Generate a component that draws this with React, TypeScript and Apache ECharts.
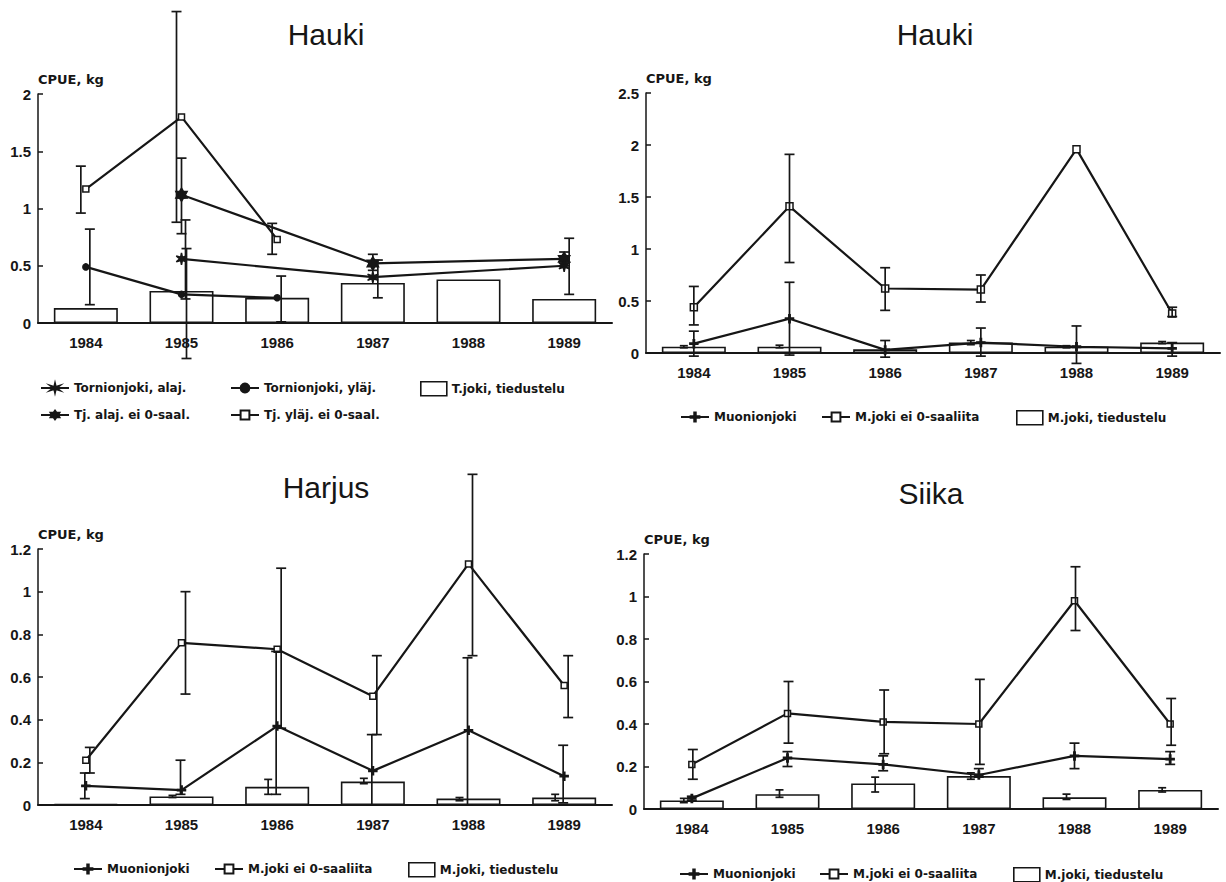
import React, { useEffect, useRef } from 'react';
import * as echarts from 'echarts';

type Err = [number, number] | null;

const years = ['1984', '1985', '1986', '1987', '1988', '1989'];

// Panel 1 – Hauki, Tornionjoki
const tjAla = [null, 0.56, null, 0.4, null, 0.5];
const tjAlaErr: Err[] = [null, [-0.31, 0.65], null, [0.22, 0.55], null, [0.25, 0.74]];
const tjAlaEi = [null, 1.12, null, 0.52, null, 0.56];
const tjAlaEiErr: Err[] = [null, [0.78, 1.44], null, [0.46, 0.6], null, [0.5, 0.62]];
const tjYla = [0.49, 0.25, 0.22, null, null, null];
const tjYlaErr: Err[] = [[0.16, 0.82], [0.21, 0.9], [0.01, 0.41], null, null, null];
const tjYlaEi = [1.17, 1.8, 0.73, null, null, null];
const tjYlaEiErr: Err[] = [[0.96, 1.37], [0.88, 2.72], [0.6, 0.87], null, null, null];
const tjTied = [0.13, 0.28, 0.22, 0.35, 0.38, 0.21];

// Panel 2 – Hauki, Muonionjoki
const muoHauki = [0.09, 0.33, 0.03, 0.1, 0.06, 0.045];
const muoHaukiErr: Err[] = [[-0.03, 0.21], [-0.02, 0.68], [-0.04, 0.12], [-0.03, 0.24], [-0.1, 0.26], [-0.03, 0.1]];
const muoHaukiEi = [0.44, 1.41, 0.62, 0.61, 1.96, 0.38];
const muoHaukiEiErr: Err[] = [[0.27, 0.64], [0.87, 1.91], [0.41, 0.82], [0.49, 0.75], null, [0.35, 0.44]];
const muoHaukiTied = [0.06, 0.06, 0.035, 0.1, 0.06, 0.1];
const muoHaukiTiedErr: Err[] = [[0.05, 0.07], [0.05, 0.075], null, [0.08, 0.12], [0.05, 0.07], [0.09, 0.11]];

// Panel 3 – Harjus, Muonionjoki
const muoHarjus = [0.09, 0.07, 0.37, 0.16, 0.35, 0.135];
const muoHarjusErr: Err[] = [[0.03, 0.15], [0.05, 0.21], [0.05, 0.72], [0.0, 0.33], [0.0, 0.69], [0.01, 0.28]];
const muoHarjusEi = [0.21, 0.76, 0.73, 0.51, 1.13, 0.56];
const muoHarjusEiErr: Err[] = [[0.15, 0.27], [0.52, 1.0], [0.36, 1.11], [0.33, 0.7], [0.7, 1.55], [0.41, 0.7]];
const muoHarjusTied = [0.005, 0.04, 0.085, 0.11, 0.03, 0.035];
const muoHarjusTiedErr: Err[] = [null, [0.035, 0.045], [0.05, 0.12], [0.1, 0.125], [0.02, 0.035], [0.02, 0.05]];

// Panel 4 – Siika, Muonionjoki
const muoSiika = [0.05, 0.24, 0.21, 0.16, 0.25, 0.235];
const muoSiikaErr: Err[] = [[0.04, 0.06], [0.2, 0.27], [0.18, 0.25], [0.15, 0.19], [0.19, 0.31], [0.21, 0.27]];
const muoSiikaEi = [0.21, 0.45, 0.41, 0.4, 0.98, 0.4];
const muoSiikaEiErr: Err[] = [[0.14, 0.28], [0.31, 0.6], [0.26, 0.56], [0.21, 0.61], [0.84, 1.14], [0.3, 0.52]];
const muoSiikaTied = [0.04, 0.07, 0.12, 0.155, 0.055, 0.09];
const muoSiikaTiedErr: Err[] = [[0.03, 0.05], [0.055, 0.09], [0.08, 0.15], [0.14, 0.17], [0.045, 0.07], [0.08, 0.1]];

const panelTitles = ['Hauki', 'Hauki', 'Harjus', 'Siika'];
const yAxisName = 'CPUE, kg';
const yMax = [2, 2.5, 1.2, 1.2];
const yInterval = [0.5, 0.5, 0.2, 0.2];

const p1Names = ['Tornionjoki, alaj.', 'Tj. alaj. ei 0-saal.', 'Tornionjoki, yläj.', 'Tj. yläj. ei 0-saal.', 'T.joki, tiedustelu'];
const mNames = ['Muonionjoki', 'M.joki ei 0-saaliita', 'M.joki, tiedustelu'];

const INK = '#161616';
const STAR_THIN = 'path://M0,-10L1.5,-2.6L8.66,-5L3,0L8.66,5L1.5,2.6L0,10L-1.5,2.6L-8.66,5L-3,0L-8.66,-5L-1.5,-2.6Z';
const STAR_BOLD = 'path://M0,-10L3,-5.2L8.66,-5L6,0L8.66,5L3,5.2L0,10L-3,5.2L-8.66,5L-6,0L-8.66,-5L-3,-5.2Z';
const PLUS = 'path://M-1,-6L1,-6L1,-1L6,-1L6,1L1,1L1,6L-1,6L-1,1L-6,1L-6,-1L-1,-1Z';

const tag = (n: string, p: number) => `${n}|${p}`;
const strip = (n: string) => n.split('|')[0];

function errSeries(grid: number, errs: Err[], offset: number, cap = 5) {
  return {
    type: 'custom',
    xAxisIndex: grid,
    yAxisIndex: grid,
    z: 4,
    silent: true,
    clip: false,
    data: errs.flatMap((e, i) => (e ? [[i, e[0], e[1]]] : [])),
    encode: { x: 0, y: [1, 2] },
    renderItem: (_p: any, api: any) => {
      const hi = api.coord([api.value(0), api.value(2)]);
      const lo = api.coord([api.value(0), api.value(1)]);
      const x = hi[0] + offset;
      const st = { stroke: INK, lineWidth: 1.7 };
      return {
        type: 'group',
        children: [
          { type: 'line', shape: { x1: x, y1: hi[1], x2: x, y2: lo[1] }, style: st },
          { type: 'line', shape: { x1: x - cap, y1: hi[1], x2: x + cap, y2: hi[1] }, style: st },
          { type: 'line', shape: { x1: x - cap, y1: lo[1], x2: x + cap, y2: lo[1] }, style: st },
        ],
      };
    },
  };
}

function lineSeries(grid: number, name: string, data: (number | null)[], symbol: string, size: number, filled: boolean) {
  return {
    type: 'line',
    name,
    xAxisIndex: grid,
    yAxisIndex: grid,
    data,
    connectNulls: true,
    symbol,
    symbolSize: size,
    symbolKeepAspect: true,
    showSymbol: true,
    showAllSymbol: true,
    lineStyle: { color: INK, width: 2.2 },
    itemStyle: { color: filled ? INK : '#fff', borderColor: INK, borderWidth: 1.5 },
    z: 3,
  };
}

function barSeries(grid: number, name: string, data: number[]) {
  return {
    type: 'bar',
    name,
    xAxisIndex: grid,
    yAxisIndex: grid,
    data,
    barWidth: 64,
    itemStyle: { color: '#fff', borderColor: INK, borderWidth: 1.6 },
    z: 2,
  };
}

const legendText = { fontFamily: 'DejaVu Sans', fontWeight: 'bold', fontSize: 12, color: INK };

function legendItem(name: string, left: number, top: number, box = false) {
  return {
    data: [name],
    left,
    top,
    padding: 0,
    selectedMode: false,
    itemWidth: box ? 26 : 28,
    itemHeight: box ? 14 : 11,
    formatter: strip,
    textStyle: legendText,
    ...(box ? { icon: 'rect', itemStyle: { color: '#fff', borderColor: INK, borderWidth: 1.6 } } : {}),
  };
}

function buildOption() {
  const grids = [
    { left: 38, top: 94, width: 574, height: 229 },
    { left: 646, top: 93, width: 574, height: 260 },
    { left: 38, top: 549, width: 574, height: 256 },
    { left: 644, top: 554, width: 574, height: 255 },
  ];
  const titlePos = [
    { left: 326, top: 19 },
    { left: 935, top: 19 },
    { left: 326, top: 472 },
    { left: 931, top: 478 },
  ];
  const tickFont = { fontFamily: 'Liberation Sans', fontWeight: 'bold', fontSize: 15, color: INK };

  const series: any[] = [
    // Panel 1
    barSeries(0, p1Names[4], tjTied),
    lineSeries(0, p1Names[3], tjYlaEi, 'rect', 6, false),
    lineSeries(0, p1Names[2], tjYla, 'circle', 6, true),
    lineSeries(0, p1Names[1], tjAlaEi, STAR_BOLD, 13, true),
    lineSeries(0, p1Names[0], tjAla, STAR_THIN, 12, true),
    errSeries(0, tjYlaEiErr, -5),
    errSeries(0, tjYlaErr, 4),
    errSeries(0, tjAlaEiErr, 0),
    errSeries(0, tjAlaErr, 5),
    // Panel 2
    barSeries(1, tag(mNames[2], 2), muoHaukiTied),
    lineSeries(1, tag(mNames[0], 2), muoHauki, PLUS, 8, true),
    lineSeries(1, tag(mNames[1], 2), muoHaukiEi, 'rect', 7, false),
    errSeries(1, muoHaukiErr, 0),
    errSeries(1, muoHaukiEiErr, 0),
    errSeries(1, muoHaukiTiedErr, -10, 4),
    // Panel 3
    barSeries(2, tag(mNames[2], 3), muoHarjusTied),
    lineSeries(2, tag(mNames[0], 3), muoHarjus, PLUS, 8, true),
    lineSeries(2, tag(mNames[1], 3), muoHarjusEi, 'rect', 6, false),
    errSeries(2, muoHarjusErr, -1),
    errSeries(2, muoHarjusEiErr, 4),
    errSeries(2, muoHarjusTiedErr, -9, 4),
    // Panel 4
    barSeries(3, tag(mNames[2], 4), muoSiikaTied),
    lineSeries(3, tag(mNames[0], 4), muoSiika, PLUS, 8, true),
    lineSeries(3, tag(mNames[1], 4), muoSiikaEi, 'rect', 6, false),
    errSeries(3, muoSiikaErr, 0),
    errSeries(3, muoSiikaEiErr, 1),
    errSeries(3, muoSiikaTiedErr, -8, 4),
  ];

  const legend = [
    legendItem(p1Names[0], 40, 382),
    legendItem(p1Names[2], 230, 382),
    legendItem(p1Names[4], 420, 381, true),
    legendItem(p1Names[1], 40, 409),
    legendItem(p1Names[3], 230, 409),
    legendItem(tag(mNames[0], 2), 680, 411),
    legendItem(tag(mNames[1], 2), 821, 411),
    legendItem(tag(mNames[2], 2), 1016, 410, true),
    legendItem(tag(mNames[0], 3), 73, 863),
    legendItem(tag(mNames[1], 3), 214, 863),
    legendItem(tag(mNames[2], 3), 408, 862, true),
    legendItem(tag(mNames[0], 4), 679, 868),
    legendItem(tag(mNames[1], 4), 819, 868),
    legendItem(tag(mNames[2], 4), 1013, 867, true),
  ];

  return {
    animation: false,
    backgroundColor: '#fff',
    title: panelTitles.map((t, i) => ({
      text: t,
      left: titlePos[i].left,
      top: titlePos[i].top,
      textAlign: 'center',
      padding: 0,
      textStyle: { fontFamily: 'Liberation Sans', fontWeight: 'normal', fontSize: 30, color: INK },
    })),
    grid: grids,
    xAxis: grids.map((_, i) => ({
      type: 'category',
      gridIndex: i,
      data: years,
      axisLine: { show: true, lineStyle: { color: INK, width: 2 } },
      axisTick: { show: false },
      axisLabel: { ...tickFont, margin: 12 },
      splitLine: { show: false },
    })),
    yAxis: grids.map((_, i) => ({
      type: 'value',
      gridIndex: i,
      min: 0,
      max: yMax[i],
      interval: yInterval[i],
      name: yAxisName,
      nameLocation: 'end',
      nameGap: 8,
      nameTextStyle: { fontFamily: 'DejaVu Sans', fontWeight: 'bold', fontSize: 13, color: INK, align: 'left' },
      axisLine: { show: true, lineStyle: { color: INK, width: 1.5 } },
      axisTick: { show: true, inside: true, length: 5, lineStyle: { color: INK, width: 1.5 } },
      axisLabel: { ...tickFont, margin: 7 },
      splitLine: { show: false },
    })),
    legend,
    series,
  };
}

export default function App() {
  const ref = useRef<HTMLDivElement>(null);
  useEffect(() => {
    if (!ref.current) return;
    const chart = echarts.init(ref.current, null, { renderer: 'svg' });
    chart.setOption(buildOption() as any);
    return () => chart.dispose();
  }, []);
  return (
    <div
      ref={ref}
      style={{ position: 'fixed', left: 0, top: 0, width: 1226, height: 882, background: '#fff' }}
    />
  );
}
